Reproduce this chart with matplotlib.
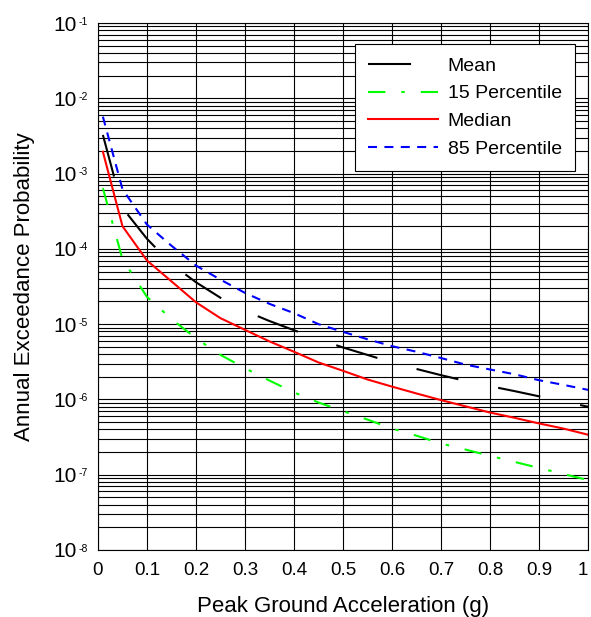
import numpy as np
from matplotlib import pyplot as plt
from matplotlib.ticker import LogLocator, NullFormatter, FuncFormatter
from matplotlib.transforms import offset_copy

plt.rcParams['font.family'] = ['Liberation Sans', 'DejaVu Sans']
plt.rcParams['lines.scale_dashes'] = False

# peak ground acceleration (g)
pga = [0.01, 0.05, 0.10, 0.15, 0.20, 0.25, 0.30, 0.35, 0.40, 0.45, 0.50,
       0.55, 0.60, 0.65, 0.70, 0.75, 0.80, 0.85, 0.90, 0.95, 1.00]

# annual exceedance probability
mean_p = [3.26e-3, 3.5e-4, 1.36e-4, 6.3e-5, 3.6e-5, 2.24e-5, 1.5e-5, 1.1e-5, 8.3e-6, 6.3e-6, 4.9e-6,
          3.9e-6, 3.1e-6, 2.54e-6, 2.1e-6, 1.76e-6, 1.5e-6, 1.29e-6, 1.1e-6, 9.4e-7, 8.0e-7]
p15 = [6.4e-4, 7.3e-5, 2.3e-5, 1.17e-5, 6.5e-6, 3.9e-6, 2.6e-6, 1.78e-6, 1.24e-6, 9.1e-7, 7.0e-7,
       5.4e-7, 4.1e-7, 3.3e-7, 2.6e-7, 2.16e-7, 1.78e-7, 1.48e-7, 1.23e-7, 1.02e-7, 8.5e-8]
median_p = [1.95e-3, 2.0e-4, 7.0e-5, 3.7e-5, 1.95e-5, 1.2e-5, 8.4e-6, 5.9e-6, 4.3e-6, 3.1e-6, 2.4e-6,
            1.84e-6, 1.48e-6, 1.2e-6, 9.8e-7, 8.1e-7, 6.7e-7, 5.7e-7, 4.8e-7, 4.1e-7, 3.4e-7]
p85 = [5.7e-3, 6.2e-4, 2.1e-4, 1.1e-4, 6.0e-5, 3.9e-5, 2.6e-5, 1.86e-5, 1.4e-5, 1.0e-5, 7.9e-6,
       6.3e-6, 5.1e-6, 4.3e-6, 3.55e-6, 2.9e-6, 2.5e-6, 2.16e-6, 1.8e-6, 1.56e-6, 1.34e-6]

labels = ['Mean', '15 Percentile', 'Median', '85 Percentile']
xtick_labels = ['0', '0.1', '0.2', '0.3', '0.4', '0.5', '0.6', '0.7', '0.8', '0.9', '1']
exponents = [-8, -7, -6, -5, -4, -3, -2, -1]

fig = plt.figure(figsize=(5.91, 6.17), dpi=100)
ax = fig.add_axes([0.1658, 0.1086, 0.8291, 0.8541])

ax.plot(pga, mean_p, color='black', lw=1.5, ls=(0, (31, 29.3)), label=labels[0])
ax.plot(pga, p15, color='#00ff00', lw=1.5, ls=(0, (12.5, 11.5, 2.5, 11.5)), label=labels[1])
ax.plot(pga, median_p, color='red', lw=1.5, label=labels[2])
ax.plot(pga, p85, color='blue', lw=1.5, ls=(0, (6.5, 5.3)), label=labels[3])

ax.set_yscale('log')
ax.set_xlim(0, 1)
ax.set_ylim(1e-8, 1e-1)
ax.set_xticks(np.arange(0, 1.01, 0.1))
ax.set_xticklabels(xtick_labels)
ax.get_xticklabels()[-1].set_ha('right')
ax.yaxis.set_major_locator(LogLocator(base=10, numticks=20))
ax.yaxis.set_minor_locator(LogLocator(base=10, subs=np.arange(2, 10), numticks=100))
ax.yaxis.set_minor_formatter(NullFormatter())
# MATLAB style: big "10" with a small exponent next to it
ax.yaxis.set_major_formatter(FuncFormatter(lambda v, p: '10'))

sup_tr = offset_copy(ax.get_yaxis_transform(), fig=fig, x=-7.4, y=1.0, units='points')
for e in exponents:
  ax.text(0, 10.0**e, '-%d' % -e, transform=sup_tr, ha='right', va='center', fontsize=7.5)

ax.grid(True, which='both', axis='y', color='black', lw=0.8)
ax.grid(True, which='major', axis='x', color='black', lw=0.8)
ax.set_axisbelow(True)
ax.tick_params(axis='both', which='both', length=0)
ax.tick_params(axis='x', labelsize=13.5, pad=9)
ax.tick_params(axis='y', labelsize=15, pad=15.5)
for s in ax.spines.values():
  s.set_color('black')
  s.set_linewidth(0.8)

ax.set_xlabel('Peak Ground Acceleration (g)', fontsize=16, labelpad=12)
ax.set_ylabel('Annual Exceedance Probability', fontsize=16, labelpad=13)

leg = ax.legend(loc='upper right', bbox_to_anchor=(0.9735, 0.9602), borderaxespad=0,
                fontsize=14, handlelength=3.6, handletextpad=0.5, borderpad=0.67,
                labelspacing=0.52, fancybox=False, framealpha=1, edgecolor='black')
leg.get_frame().set_linewidth(0.8)

fig.savefig('out.png', dpi=100)
